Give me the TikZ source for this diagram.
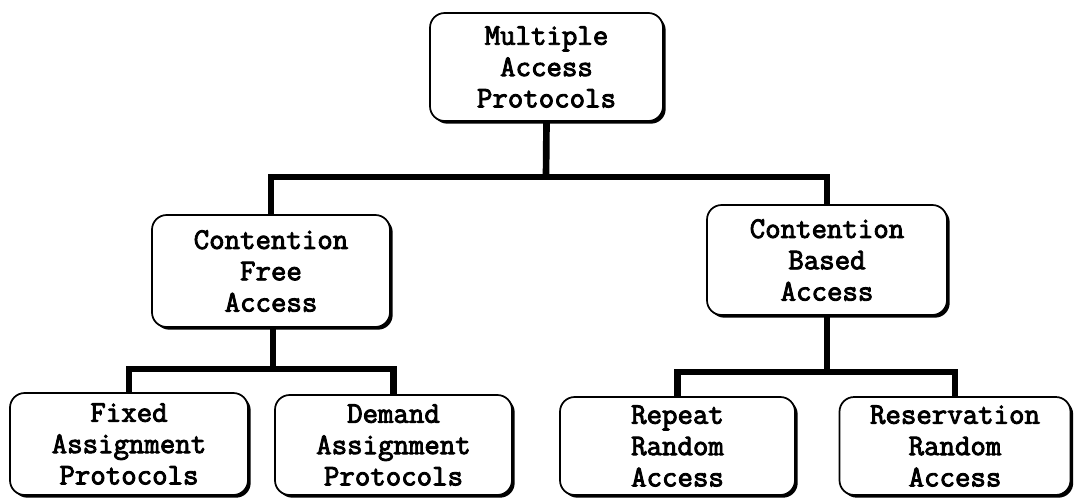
\documentclass[tikz,border=0pt]{standalone}
\usepackage{fontspec}
\newfontfamily\boxfont{Latin Modern Mono}[FakeBold=3]
\usetikzlibrary{shadows}
\begin{document}
\begin{tikzpicture}[x=0.75pt,y=-0.75pt,
  box/.style 2 args={draw, line width=1.3pt, rounded corners=11pt, fill=white,
    align=center, inner sep=0pt,
    font=\boxfont\fontsize{22.5}{23.5}\selectfont,
    minimum width=#1*0.75pt, minimum height=#2*0.75pt,
    drop shadow={shadow xshift=2pt, shadow yshift=-2pt, fill=black, opacity=1}},
  link/.style={line width=5pt}]
\useasboundingbox (0,0) rectangle (1074,497);

% root
\node[box={233}{108}] (root) at (546.5,67) {Multiple\\Access\\Protocols};

% second level
\node[box={238}{112}] (cfree) at (271,271) {Contention\\Free\\Access};
\node[box={240}{110}] (cbased) at (827,260) {Contention\\Based\\Access};

% leaves
\node[box={238}{102}] (fixed) at (129,444) {Fixed\\Assignment\\Protocols};
\node[box={237}{100}] (demand) at (393.5,445) {Demand\\Assignment\\Protocols};
\node[box={235}{98}] (nrep) at (677.5,446) {Repeat\\Random\\Access};
\node[box={231}{98}] (nres) at (955,446) {Reservation\\Random\\Access};

% junction points of the tree
\coordinate (j1) at (546,177);
\coordinate (j2) at (273,369);
\coordinate (j3) at (827,372);

% connectors
\draw[link] (root.south) -- (j1);
\draw[link] (cfree.north) |- (j1) -| (cbased.north);
\draw[link] (cfree.south -| j2) -- (j2);
\draw[link] (fixed.north) |- (j2) -| (demand.north);
\draw[link] (cbased.south) -- (j3);
\draw[link] (nrep.north) |- (j3) -| (nres.north);
\end{tikzpicture}
\end{document}
